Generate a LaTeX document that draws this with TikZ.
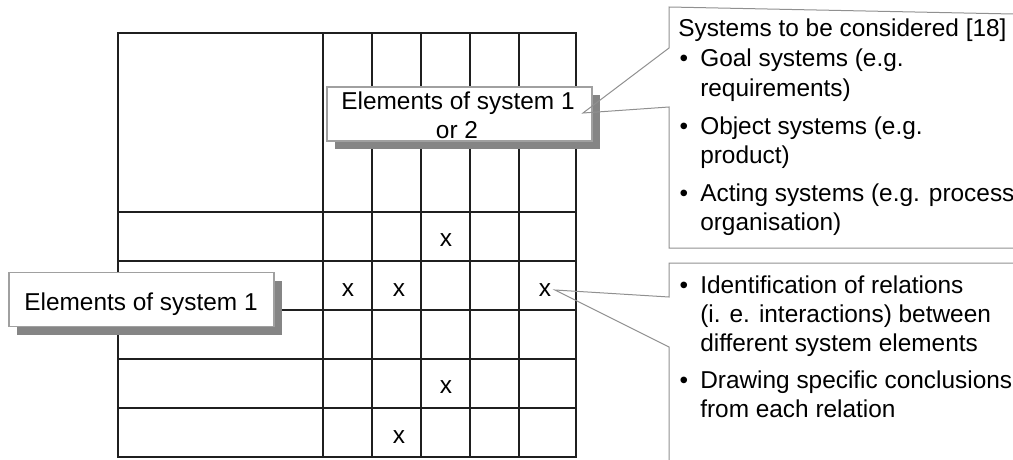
\documentclass[tikz,border=0pt]{standalone}
\usepackage{fontspec}
\setmainfont{Liberation Sans}
\usetikzlibrary{shadows}
\definecolor{shadowgray}{HTML}{858585}
\definecolor{boxborder}{HTML}{A0A0A0}
\definecolor{calloutline}{HTML}{909090}
\begin{document}
\begin{tikzpicture}[x=0.75pt,y=-0.75pt,
  font=\fontsize{18.3pt}{22pt}\selectfont,
  gridline/.style={line width=1.1pt, draw=black!88},
  labelbox/.style={draw=boxborder, line width=1.1pt, fill=white,
    minimum width=198.75pt, minimum height=40.5pt, inner sep=0pt,
    drop shadow={shadow xshift=6pt, shadow yshift=-6pt, fill=shadowgray, opacity=1}},
  calloutshape/.style={draw=calloutline, line width=0.75pt},
  txt/.style={anchor=base west, inner sep=0pt},
  bul/.style={anchor=base, inner sep=0pt},
  cellx/.style={anchor=base, inner sep=0pt}]
\useasboundingbox (0,0) rectangle (1013,460);

% matrix grid
\draw[gridline] (118,33) rectangle (576,457);
\foreach \xx in {323,372,421,470,519}
  \draw[gridline] (\xx,33) -- (\xx,457);
\foreach \yy in {212,261,310,359,408}
  \draw[gridline] (118,\yy) -- (576,\yy);

% marks in the matrix
\node[cellx] (m1) at (446,246) {x};
\node[cellx] (m2) at (348,296) {x};
\node[cellx] (m3) at (399,296) {x};
\node[cellx] (m4) at (545,296) {x};
\node[cellx] (m5) at (446,393) {x};
\node[cellx] (m6) at (399,443) {x};

% label boxes
\node[labelbox] (b1) at (459.5,114) {};
\node[anchor=base, inner sep=0pt] (b1a) at (458,109.5) {Elements of system 1};
\node[anchor=base, inner sep=0pt] (b1b) at (457,138.5) {or 2};

\node[labelbox] (b2) at (141.5,299.5) {};
\node[anchor=base, inner sep=0pt] (b2a) at (141,310) {Elements of system 1};

% upper callout
\draw[calloutshape] (1013,14) -- (669,7) -- (669,48) -- (583,113) -- (669,107) -- (669,248) -- (1013,248);
\node[txt] (h1) at (678,37) {Systems to be considered [18]};
\node[bul] (p1) at (684,67) {•};
\node[txt] (t1) at (700,67) {Goal systems (e.g.};
\node[txt] (t2) at (700,96) {requirements)};
\node[bul] (p2) at (684,134) {•};
\node[txt] (t3) at (700,134) {Object systems (e.g.};
\node[txt] (t4) at (700,163) {product)};
\node[bul] (p3) at (684,201) {•};
\node[txt] (t5) at (700,201) {Acting systems (e.g. process};
\node[txt] (t6) at (700,230) {organisation)};

% lower callout
\draw[calloutshape] (1013,263) -- (669,263) -- (669,297) -- (555,290) -- (669,347) -- (669,460);
\node[bul] (q1) at (684,293) {•};
\node[txt] (s1) at (700,293) {Identification of relations};
\node[txt] (s2) at (700,322) {(i. e. interactions) between};
\node[txt] (s3) at (700,351) {different system elements};
\node[bul] (q2) at (684,388) {•};
\node[txt] (s4) at (700,388) {Drawing specific conclusions};
\node[txt] (s5) at (700,417) {from each relation};
\end{tikzpicture}
\end{document}
